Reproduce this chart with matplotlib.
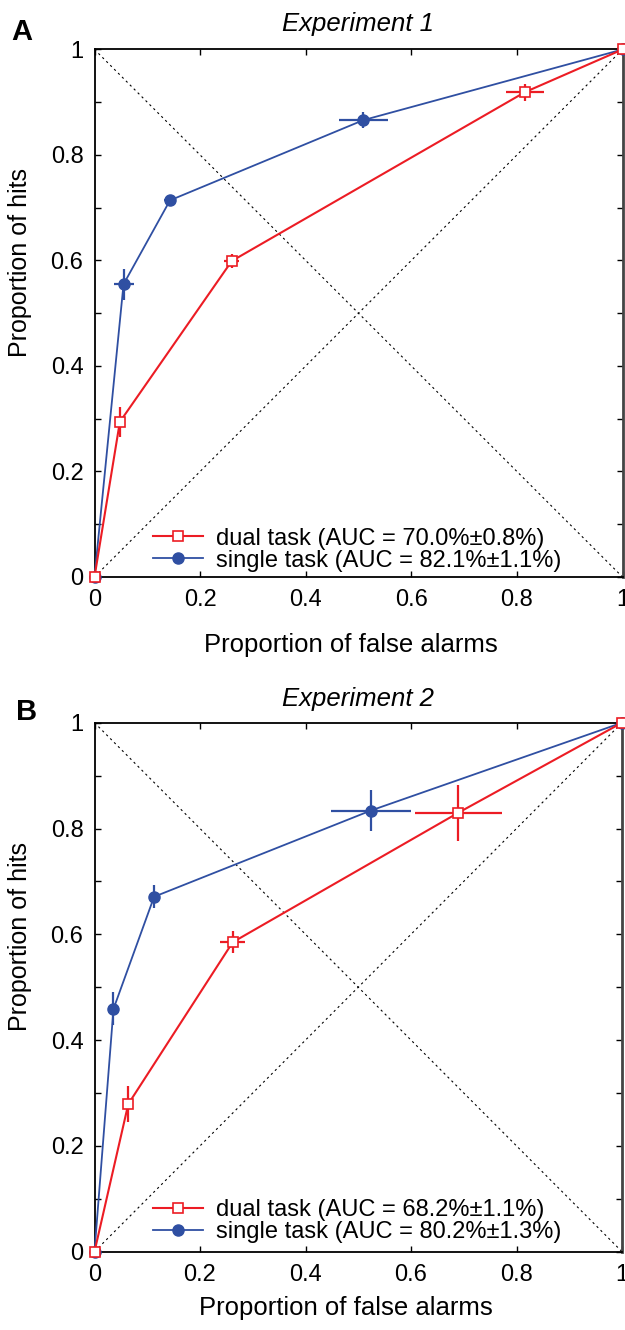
import numpy as np
import matplotlib.pyplot as plt
from matplotlib.lines import Line2D
from matplotlib.ticker import MultipleLocator, FuncFormatter

plt.rcParams['font.family'] = ['Liberation Sans', 'DejaVu Sans']

red = "#ec1c24"
blue = "#2f4fa2"

# experiment 1 - roc points (false alarm rate, hit rate) with sem
fa_single1 = [0.0, 0.055, 0.143, 0.509, 1.0]
hit_single1 = [0.0, 0.555, 0.714, 0.866, 1.0]
fa_err_single1 = [0.0, 0.019, 0.011, 0.046, 0.0]
hit_err_single1 = [0.0, 0.029, 0.008, 0.015, 0.0]
fa_dual1 = [0.0, 0.048, 0.260, 0.815, 1.0]
hit_dual1 = [0.0, 0.294, 0.599, 0.919, 1.0]
fa_err_dual1 = [0.0, 0.005, 0.014, 0.036, 0.0]
hit_err_dual1 = [0.0, 0.029, 0.013, 0.016, 0.0]

# experiment 2
fa_single2 = [0.0, 0.036, 0.113, 0.524, 1.0]
hit_single2 = [0.0, 0.459, 0.671, 0.834, 1.0]
fa_err_single2 = [0.0, 0.008, 0.008, 0.076, 0.0]
hit_err_single2 = [0.0, 0.031, 0.022, 0.038, 0.0]
fa_dual2 = [0.0, 0.064, 0.262, 0.690, 1.0]
hit_dual2 = [0.0, 0.279, 0.585, 0.830, 1.0]
fa_err_dual2 = [0.0, 0.007, 0.024, 0.083, 0.0]
hit_err_dual2 = [0.0, 0.034, 0.021, 0.053, 0.0]

auc_dual = ["70.0%\u00b10.8%", "68.2%\u00b11.1%"]
auc_single = ["82.1%\u00b11.1%", "80.2%\u00b11.3%"]
titles = ["Experiment 1", "Experiment 2"]
letters = ["A", "B"]

fig = plt.figure(figsize=(6.25, 13.3), dpi=100)
ax1 = fig.add_axes([0.1512, 0.5662, 0.8448, 0.3966])
ax2 = fig.add_axes([0.1512, 0.0589, 0.8440, 0.3977])

panels = [
    (ax1, fa_single1, hit_single1, fa_err_single1, hit_err_single1,
     fa_dual1, hit_dual1, fa_err_dual1, hit_err_dual1),
    (ax2, fa_single2, hit_single2, fa_err_single2, hit_err_single2,
     fa_dual2, hit_dual2, fa_err_dual2, hit_err_dual2),
]

tick_fmt = FuncFormatter(lambda v, p: "%g" % round(v, 2))

for i, (ax, fs, hs, fse, hse, fd, hd, fde, hde) in enumerate(panels):
    # chance line and the negative diagonal
    ax.plot([0, 1], [0, 1], color="black", lw=0.8, linestyle=(0, (2, 3)), zorder=1)
    ax.plot([0, 1], [1, 0], color="black", lw=0.8, linestyle=(0, (2, 3)), zorder=1)

    ax.errorbar(fs, hs, xerr=fse, yerr=hse, color=blue, lw=1.3, elinewidth=1.6,
                capsize=0, marker="o", markersize=8, markerfacecolor=blue,
                markeredgecolor=blue, clip_on=False, zorder=3)
    ax.errorbar(fd, hd, xerr=fde, yerr=hde, color=red, lw=1.5, elinewidth=1.6,
                capsize=0, marker="s", markersize=7.5, markerfacecolor="white",
                markeredgecolor=red, markeredgewidth=1.2, clip_on=False, zorder=4)

    ax.set_xlim(0, 1)
    ax.set_ylim(0, 1)
    ax.xaxis.set_major_locator(MultipleLocator(0.2))
    ax.yaxis.set_major_locator(MultipleLocator(0.2))
    ax.yaxis.set_minor_locator(MultipleLocator(0.1))
    ax.xaxis.set_major_formatter(tick_fmt)
    ax.yaxis.set_major_formatter(tick_fmt)
    ax.tick_params(axis="both", which="both", direction="in", top=True, right=True,
                   length=4.3, width=1.0, labelsize=17)
    ax.tick_params(axis="x", pad=9)
    ax.tick_params(axis="y", pad=8)

    for side in ["left", "top", "bottom"]:
        ax.spines[side].set_linewidth(1.3)
        ax.spines[side].set_color("black")
    ax.spines["right"].set_linewidth(2.0)
    ax.spines["right"].set_color("#444444")

    ax.set_title(titles[i], fontsize=18.5, style="italic", pad=13.5 if i == 0 else 12)
    ax.set_xlabel("Proportion of false alarms", fontsize=18.5)
    ax.set_ylabel("Proportion of hits", fontsize=18)
    ax.yaxis.set_label_coords(-0.118, 0.596)

    # legend entries: line plus marker, no error bars
    h_dual = Line2D([], [], color=red, lw=1.5, marker="s", markersize=7.5,
                    markerfacecolor="white", markeredgecolor=red, markeredgewidth=1.2)
    h_single = Line2D([], [], color=blue, lw=1.3, marker="o", markersize=8,
                      markerfacecolor=blue, markeredgecolor=blue)
    ax.legend([h_dual, h_single],
              ["dual task (AUC = " + auc_dual[i] + ")",
               "single task (AUC = " + auc_single[i] + ")"],
              loc="lower left", bbox_to_anchor=(0.111, 0.010 if i == 0 else 0.016),
              frameon=False, fontsize=17, borderpad=0, borderaxespad=0,
              handlelength=2.1, handletextpad=0.55, labelspacing=0.0)

ax1.xaxis.set_label_coords(0.485, -0.1056)
ax2.xaxis.set_label_coords(0.476, -0.0837)

fig.text(22 / 625, 1 - 32 / 1330, letters[0], fontsize=21, fontweight="bold",
         ha="center", va="center")
fig.text(27 / 625, 1 - 712 / 1330, letters[1], fontsize=21, fontweight="bold",
         ha="center", va="center")

fig.savefig("out.png", dpi=100)
